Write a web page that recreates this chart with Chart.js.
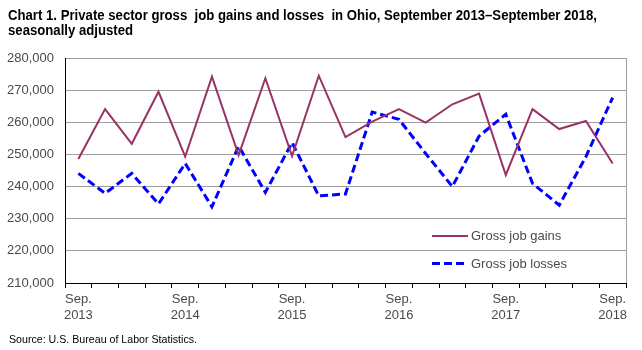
<!DOCTYPE html>
<html>
<head>
<meta charset="utf-8">
<script src="https://cdn.jsdelivr.net/npm/chart.js@4/dist/chart.umd.min.js"></script>
<style>
  html, body { margin: 0; padding: 0; background: #fff; }
  #wrap { position: relative; width: 642px; height: 350px; overflow: hidden; }
  #chart { position: absolute; left: 0; top: 0; }
  .txt { position: absolute; white-space: nowrap; transform-origin: 0 0; color: #000;
         font-family: "Liberation Sans Narrow", "Arial Narrow", "Liberation Sans", Arial, sans-serif; }
  #title { left: 8px; top: 8px; font-size: 14px; font-weight: bold; line-height: 15px; }
  #source { left: 9px; top: 333px; font-size: 11px; line-height: 12px; }
</style>
</head>
<body>
<div id="wrap">
  <canvas id="chart" width="642" height="350"></canvas>
  <div id="title" class="txt"><span data-fit="589">Chart 1. Private sector gross&nbsp; job gains and losses&nbsp; in Ohio, September 2013–September 2018,</span><br><span>seasonally adjusted</span></div>
  <div id="source" class="txt"><span data-fit="188">Source: U.S. Bureau of Labor Statistics.</span></div>
</div>
<script>
// quarters Sep 2013 .. Sep 2018
const quarters = ['Sep. 2013', 'Dec. 2013', 'Mar. 2014', 'Jun. 2014', 'Sep. 2014', 'Dec. 2014', 'Mar. 2015',
  'Jun. 2015', 'Sep. 2015', 'Dec. 2015', 'Mar. 2016', 'Jun. 2016', 'Sep. 2016', 'Dec. 2016', 'Mar. 2017',
  'Jun. 2017', 'Sep. 2017', 'Dec. 2017', 'Mar. 2018', 'Jun. 2018', 'Sep. 2018'];

const grossGains = [248600, 264100, 253300, 269500, 249300, 274200, 249800, 273700, 249500, 274500, 255400,
  260200, 264100, 259900, 265600, 268900, 243600, 264100, 257900, 260400, 247200];

const grossLosses = [244100, 237900, 244100, 234600, 247200, 233700, 252600, 238200, 253700, 237100, 237700,
  263200, 260900, 250300, 240000, 255700, 262500, 241000, 234200, 249300, 267700];

const yTicks = { min: 210000, max: 280000, step: 10000 };

// squeeze title / source to the width they take in the original
document.querySelectorAll('[data-fit]').forEach(el => {
  el.style.display = 'inline-block';
  const w = el.getBoundingClientRect().width;
  const target = +el.dataset.fit;
  el.style.transformOrigin = '0 0';
  el.style.transform = `scaleX(${target / w})`;
});
const titleLine2 = document.querySelector('#title span:not([data-fit])');
titleLine2.style.display = 'inline-block';
titleLine2.style.transformOrigin = '0 0';
titleLine2.style.transform = document.querySelector('#title span[data-fit]').style.transform;

const labelColor = '#4a4a4a';

const insideLegend = {
  id: 'insideLegend',
  afterDraw(chart) {
    const { ctx, chartArea } = chart;
    ctx.save();
    // right frame line
    ctx.strokeStyle = '#a0a0a0';
    ctx.lineWidth = 1;
    ctx.beginPath();
    ctx.moveTo(chartArea.right + 0.5, chartArea.top);
    ctx.lineTo(chartArea.right + 0.5, chartArea.bottom);
    ctx.stroke();

    const items = chart.data.datasets;
    const x0 = 432, x1 = 468;
    const ys = [236, 263.5];
    ctx.font = '13px Arial, "Liberation Sans", sans-serif';
    ctx.textBaseline = 'middle';
    items.forEach((ds, i) => {
      ctx.strokeStyle = ds.borderColor;
      ctx.lineWidth = ds.borderWidth;
      ctx.setLineDash(ds.borderDash || []);
      ctx.beginPath();
      ctx.moveTo(x0, ys[i]);
      ctx.lineTo(x1, ys[i]);
      ctx.stroke();
      ctx.setLineDash([]);
      ctx.fillStyle = labelColor;
      ctx.fillText(ds.label, x1 + 3, ys[i] + 0.5);
    });
    ctx.restore();
  }
};

new Chart(document.getElementById('chart'), {
  type: 'line',
  data: {
    labels: quarters,
    datasets: [
      {
        label: 'Gross job gains',
        data: grossGains,
        borderColor: '#993366',
        borderWidth: 2,
        pointRadius: 0,
        tension: 0,
      },
      {
        label: 'Gross job losses',
        data: grossLosses,
        borderColor: '#0000ff',
        borderWidth: 3,
        borderDash: [8, 4],
        pointRadius: 0,
        tension: 0,
      }
    ]
  },
  options: {
    responsive: false,
    animation: false,
    layout: { padding: { top: 58, right: 16, bottom: 0, left: 0 } },
    plugins: {
      legend: { display: false },
      tooltip: { enabled: false },
      title: { display: false }
    },
    scales: {
      x: {
        offset: true,
        afterFit: s => { s.height = 67; },
        grid: {
          offset: true,
          drawOnChartArea: false,
          tickLength: 5,
          color: '#000',
        },
        border: { color: '#000', width: 1 },
        ticks: {
          autoSkip: false,
          maxRotation: 0,
          padding: 3,
          color: labelColor,
          font: { family: 'Arial, "Liberation Sans", sans-serif', size: 13, lineHeight: 1.23 },
          callback: (v, i) => i % 4 === 0 ? quarters[i].split(' ') : ''
        }
      },
      y: {
        min: yTicks.min,
        max: yTicks.max,
        afterFit: s => { s.width = 65; },
        grid: { color: '#a0a0a0', drawTicks: false },
        border: { color: '#000', width: 1 },
        ticks: {
          stepSize: yTicks.step,
          padding: 11,
          color: labelColor,
          font: { family: 'Arial, "Liberation Sans", sans-serif', size: 13 },
          callback: v => v.toLocaleString('en-US')
        }
      }
    }
  },
  plugins: [insideLegend]
});
</script>
</body>
</html>
